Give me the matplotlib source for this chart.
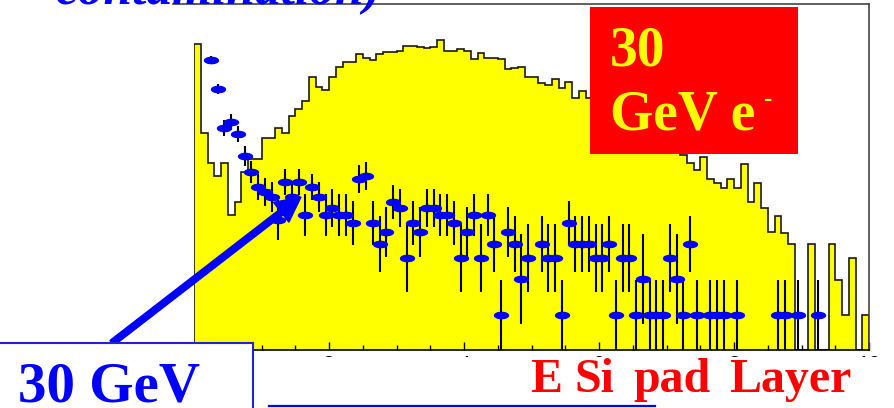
import numpy as np
import matplotlib
matplotlib.use("Agg")
import matplotlib.pyplot as plt
from matplotlib.patches import Rectangle, FancyArrow
from matplotlib.path import Path
from matplotlib.ticker import MultipleLocator

# ---------------- data ----------------
# yellow histogram: 100 bins of width 0.1 over 0..10 (arbitrary height units)
bin_edges = np.linspace(0, 10, 101)
hist_counts = [306, 217, 187, 174, 187, 135, 148, 178, 191, 191,
               212, 212, 222, 217, 234, 241, 249, 273, 263, 260,
               273, 283, 288, 288, 296, 292, 290, 296, 298, 298,
               299, 304, 304, 303, 302, 303, 310, 299, 299, 301,
               299, 291, 297, 292, 292, 291, 281, 282, 283, 273,
               273, 267, 265, 271, 262, 268, 252, 259, 252, 250,
               247, 244, 246, 240, 237, 233, 230, 226, 221, 216,
               210, 203, 195, 187, 180, 193, 171, 167, 162, 171,
               162, 186, 148, 167, 142, 118, 134, 117, 106, 0,
               0, 106, 0, 0, 106, 70, 35, 92, 0, 35]

# blue data points (bin centres), values and error half-lengths
pt_x = [0.25, 0.35, 0.45, 0.55, 0.65, 0.75, 0.85, 0.95, 1.05, 1.15,
        1.25, 1.35, 1.45, 1.55, 1.65, 1.75, 1.85, 1.95, 2.05, 2.15,
        2.25, 2.35, 2.45, 2.55, 2.65, 2.75, 2.85, 2.95, 3.05, 3.15,
        3.25, 3.35, 3.45, 3.55, 3.65, 3.75, 3.85, 3.95, 4.05, 4.15,
        4.25, 4.35, 4.45, 4.55, 4.65, 4.75, 4.85, 4.95, 5.15, 5.25,
        5.35, 5.45, 5.55, 5.65, 5.75, 5.85, 5.95, 6.05, 6.15, 6.25,
        6.35, 6.45, 6.55, 6.65, 6.75, 6.85, 6.95, 7.05, 7.15, 7.25,
        7.35, 7.45, 7.65, 7.75, 7.85, 8.05, 8.65, 8.75, 8.95, 9.25]
pt_y = [290, 261, 222, 228, 216, 194, 178, 163, 158, 153,
        130, 168, 153, 168, 135, 163, 153, 135, 142, 135,
        135, 127, 171, 174, 127, 106, 118, 148, 142, 92,
        127, 118, 142, 142, 135, 135, 127, 92, 118, 135,
        92, 135, 106, 35, 118, 106, 71, 92, 106, 92,
        92, 35, 127, 106, 106, 106, 92, 92, 106, 35,
        92, 92, 35, 71, 35, 35, 35, 92, 71, 35,
        106, 35, 35, 35, 35, 35, 35, 35, 35, 35]
pt_err = [4, 5, 8, 8, 8, 10, 11, 13, 14, 15,
          20, 13, 15, 13, 21, 13, 15, 21, 19, 21,
          21, 22, 14, 14, 22, 28, 25, 17, 19, 34,
          22, 25, 19, 19, 21, 21, 22, 34, 25, 21,
          34, 21, 28, 35, 25, 28, 45, 34, 28, 34,
          34, 35, 22, 28, 28, 28, 34, 34, 28, 35,
          34, 34, 35, 45, 35, 35, 35, 34, 45, 35,
          28, 35, 35, 35, 35, 35, 35, 35, 35, 35]

x_tick_step = 2
x_minor_step = 0.5

caption_words = ["E", "Si", "pad", "Layer"]

# ---------------- figure ----------------
W, H = 894, 408
fig = plt.figure(figsize=(W / 100, H / 100), dpi=100)
fig.patch.set_facecolor("white")

ax = fig.add_axes([194 / W, 58 / H, 675 / W, 346 / H])
ax.set_xlim(0, 10)
ax.set_ylim(0, 346)
ax.stairs(hist_counts, bin_edges, fill=True, color="#FFFF00", zorder=1)
ax.stairs(hist_counts, bin_edges, fill=False, edgecolor="#1a1a1a",
          linewidth=1.2, baseline=0, zorder=2)

ax.errorbar(pt_x, pt_y, yerr=pt_err, fmt="none", ecolor="black",
            elinewidth=1.5, capsize=0, zorder=3)
t = np.linspace(0, 2 * np.pi, 60)
ell = Path(np.column_stack([np.cos(t), 0.45 * np.sin(t)]), closed=True)
ax.plot(pt_x, pt_y, ls="none", marker=ell, ms=10, color="#0000FF",
        mec="#0000FF", zorder=4)

ax.spines["left"].set_visible(False)
for s in ("top", "right"):
    ax.spines[s].set_color("#444444")
    ax.spines[s].set_linewidth(1.2)
ax.spines["bottom"].set_color("black")
ax.spines["bottom"].set_linewidth(1.2)
ax.set_yticks([])
ax.xaxis.set_major_locator(MultipleLocator(x_tick_step))
ax.xaxis.set_minor_locator(MultipleLocator(x_minor_step))
ax.tick_params(axis="x", which="major", direction="in", length=6, width=1,
               pad=3.5, labelsize=15)
ax.tick_params(axis="x", which="minor", direction="in", length=3.5, width=1)
for lab in ax.get_xticklabels():
    lab.set_family("Liberation Sans")

# ---------------- overlay (slide decorations, pixel coordinates) ----------------
ov = fig.add_axes([0, 0, 1, 1], zorder=10)
ov.set_xlim(0, W)
ov.set_ylim(H, 0)
ov.axis("off")

serif = "Liberation Serif"

# slide title remnant at the very top
ov.text(55, 4, "contamination)", color="#0000FF", fontsize=37,
        fontweight="bold", fontstyle="italic", family=serif, va="baseline")
ov.plot([173, 194], [4, 4], color="#444444", lw=1.2)

# red label box
ov.add_patch(Rectangle((590, 7), 208, 147, fc="#FF0000", ec="none", zorder=2))
ov.text(610, 65, "30", color="#FFFF00", fontsize=40, fontweight="bold",
        family=serif, va="baseline", zorder=3)
ov.text(610, 130, "GeV e", color="#FFFF00", fontsize=40, fontweight="bold",
        family=serif, va="baseline", zorder=3)
ov.text(763, 106, "-", color="#FFFF00", fontsize=18, fontweight="bold",
        family=serif, va="baseline", zorder=3)

# arrow
ov.add_patch(FancyArrow(112, 343, 301 - 112, 197 - 343, width=6.5,
                        head_width=25, head_length=25,
                        length_includes_head=True, color="#0000FF", zorder=2))

# white strip hiding the lower part of tick labels
ov.add_patch(Rectangle((253, 357), 700, 60, fc="white", ec="none", zorder=1))

# bottom-left blue box
ov.add_patch(Rectangle((-5, 343), 258, 80, fc="white", ec="#2222DD",
                       lw=1.5, zorder=3))
ov.text(18, 401, "30 GeV", color="#0000FF", fontsize=41, fontweight="bold",
        family=serif, va="baseline", zorder=4)

# bottom-right red caption (words placed as spaced on the slide)
for word, wx in zip(caption_words, [530, 574, 633, 729]):
    ov.text(wx, 392, word, color="#FF0000", fontsize=34.5,
            fontweight="bold", family=serif, va="baseline", zorder=4)
ov.plot([269, 655], [406, 406], color="#0000FF", lw=1.6, zorder=4)

fig.savefig("out.png", dpi=100)
